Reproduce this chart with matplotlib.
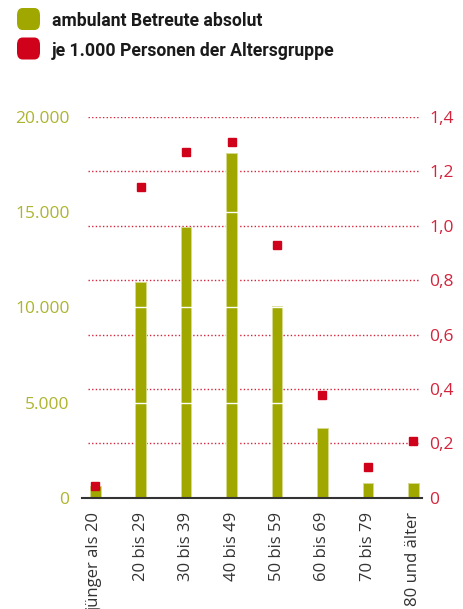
import matplotlib
matplotlib.use("Agg")
import matplotlib.pyplot as plt
from matplotlib.patches import FancyBboxPatch
import numpy as np

# Daten
groups = ["jünger als 20", "20 bis 29", "30 bis 39", "40 bis 49",
          "50 bis 59", "60 bis 69", "70 bis 79", "80 und älter"]
absolut = [610, 11350, 14200, 18100, 10050, 3680, 790, 790]
je_1000 = [0.044, 1.144, 1.270, 1.308, 0.929, 0.378, 0.114, 0.210]

left_ticks = [0, 5000, 10000, 15000, 20000]
left_labels = ["0", "5.000", "10.000", "15.000", "20.000"]
right_ticks = [0, 0.2, 0.4, 0.6, 0.8, 1.0, 1.2, 1.4]
right_labels = ["0", "0,2", "0,4", "0,6", "0,8", "1,0", "1,2", "1,4"]

GREEN = "#a0a800"
GREEN_TXT = "#aeb430"
RED = "#d0021b"
RED_TXT = "#d4243c"

plt.rcParams['font.family'] = ['Open Sans', 'DejaVu Sans']

fig = plt.figure(figsize=(4.63, 6.09), dpi=100)
ax = fig.add_axes([0.1771, 0.1828, 0.7343, 0.6251])
ax2 = ax.twinx()

x = np.arange(len(groups))

# rote gepunktete Hilfslinien (rechte Achse)
for t in right_ticks[1:]:
    ax.axhline(t / 1.4 * 20000, xmin=0.018, xmax=0.994, color=RED_TXT,
               linestyle=(0, (1, 1.6)), linewidth=1.0, zorder=1)

ax.bar(x, absolut, width=0.235, color=GREEN, edgecolor="#d6da8c",
       linewidth=0.7, zorder=2)
for t in left_ticks[1:4]:
    ax.axhline(t, color="white", linewidth=1.0, zorder=3)

ax2.plot(x, je_1000, linestyle="none", marker="s", markersize=5.5,
         color=RED, zorder=4)

ax.set_xlim(-0.29, 7.19)
ax.set_ylim(0, 20000)
ax2.set_ylim(0, 1.4)

for a in (ax, ax2):
    for s in a.spines.values():
        s.set_visible(False)
ax.spines['bottom'].set_visible(True)
ax.spines['bottom'].set_color("#333333")
ax.spines['bottom'].set_linewidth(1.5)

ax.set_yticks(left_ticks)
ax.set_yticklabels(left_labels, color=GREEN_TXT, fontsize=12.5)
ax.tick_params(axis='y', length=0, pad=9)
ax2.set_yticks(right_ticks)
ax2.set_yticklabels(right_labels, color=RED_TXT, fontsize=12.5)
ax2.tick_params(axis='y', length=0, pad=5)

ax.set_xticks(x)
ax.set_xticklabels(groups, rotation=90, fontsize=12, color="#333333",
                   ha="center", va="top")
ax.tick_params(axis='x', length=0, pad=10)

# Legende
legend_items = [(GREEN, "ambulant Betreute absolut"),
                (RED, "je 1.000 Personen der Altersgruppe")]
for i, (col, txt) in enumerate(legend_items):
    y0 = 1 - (30 + i * 29.5) / 609
    fig.patches.append(FancyBboxPatch((17 / 463, y0), 23 / 463, 22 / 609,
                                      boxstyle="round,pad=0,rounding_size=0.012",
                                      transform=fig.transFigure,
                                      facecolor=col, edgecolor="none"))
    fig.text(52 / 463, y0 + 9 / 609, txt, fontsize=12.7, fontweight="bold",
             family=['Roboto', 'DejaVu Sans'],
             color="#1a1a1a", va="center", ha="left")

fig.savefig("out.png", dpi=100)
